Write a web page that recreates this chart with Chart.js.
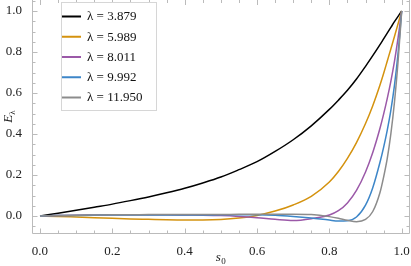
<!DOCTYPE html>
<html>
<head>
<meta charset="utf-8">
<script src="https://cdn.jsdelivr.net/npm/chart.js@4.4.1/dist/chart.umd.min.js"></script>
<style>
  html, body { margin: 0; padding: 0; background: #fff; }
</style>
</head>
<body>
<canvas id="chart" width="411" height="266"></canvas>
<script>
// s0 grid shared by every curve (denser near s0 = 1 where curves get steep)
const sValues = [0, 0.05, 0.1, 0.15, 0.2, 0.25, 0.3, 0.35, 0.4, 0.45, 0.5, 0.55, 0.6, 0.65, 0.7, 0.75,
  0.8, 0.825, 0.85, 0.875, 0.9, 0.92, 0.94, 0.95, 0.96, 0.97, 0.98, 0.99, 1.0];

const lambdas = ['3.879', '5.989', '8.011', '9.992', '11.950'];

const e3879 = [0, 0.014, 0.028, 0.043, 0.058, 0.075, 0.093, 0.113, 0.135, 0.161, 0.19, 0.226, 0.265, 0.315, 0.372, 0.44,
  0.52, 0.565, 0.613, 0.668, 0.73, 0.782, 0.836, 0.864, 0.892, 0.92, 0.948, 0.974, 1.0];
const e5989 = [0, -0.002, -0.005, -0.008, -0.011, -0.014, -0.016, -0.018, -0.019, -0.019, -0.017, -0.01, 0.003, 0.024, 0.054, 0.096,
  0.166, 0.217, 0.281, 0.358, 0.451, 0.538, 0.639, 0.695, 0.755, 0.815, 0.876, 0.938, 1.0];
const e8011 = [0, 0.002, 0.004, 0.005, 0.006, 0.006, 0.006, 0.006, 0.005, 0.004, 0.002, -0.002, -0.008, -0.016, -0.022, -0.013,
  0.005, 0.026, 0.064, 0.125, 0.215, 0.31, 0.428, 0.497, 0.573, 0.657, 0.754, 0.869, 1.0];
const e9992 = [0, 0.002, 0.003, 0.004, 0.005, 0.005, 0.005, 0.005, 0.005, 0.005, 0.006, 0.006, 0.006, 0.004, -0.002, -0.01,
  -0.02, -0.024, -0.023, -0.005, 0.053, 0.138, 0.262, 0.335, 0.418, 0.515, 0.637, 0.795, 1.0];
const e11950 = [0, 0.002, 0.004, 0.005, 0.006, 0.006, 0.007, 0.007, 0.007, 0.007, 0.007, 0.008, 0.008, 0.009, 0.009, 0.007,
  -0.003, -0.011, -0.021, -0.028, -0.017, 0.022, 0.115, 0.19, 0.28, 0.40, 0.555, 0.755, 1.0];

const series = [e3879, e5989, e8011, e9992, e11950];
const colors = ['#000000', '#d4920e', '#9b59a8', '#3d86c8', '#8c8c8c'];

const xTicks = [0, 0.2, 0.4, 0.6, 0.8, 1.0];
const yTicks = [0, 0.2, 0.4, 0.6, 0.8, 1.0];

const FONT = "'Liberation Serif', 'Times New Roman', serif";
const FRAME = '#bbbbbb';

// frame with inside ticks on all four sides, like Mathematica
const framePlugin = {
  id: 'frame',
  beforeDatasetsDraw(chart) {
    const { ctx, chartArea: a, scales: { x, y } } = chart;
    ctx.save();
    ctx.strokeStyle = FRAME;
    ctx.lineWidth = 1;
    ctx.beginPath();
    ctx.moveTo(a.left + 0.5, a.top - 0.5);
    ctx.lineTo(a.left + 0.5, a.bottom + 0.5);
    ctx.lineTo(a.right + 0.5, a.bottom + 0.5);
    ctx.lineTo(a.right + 0.5, a.top - 0.5);
    for (let k = -2; k <= 22; k++) {
      const v = k * 0.05;
      const len = k % 4 === 0 ? 5 : 3;
      if (v >= x.min && v <= x.max) {
        const px = Math.round(x.getPixelForValue(v)) + 0.5;
        ctx.moveTo(px, a.bottom + 0.5); ctx.lineTo(px, a.bottom + 0.5 - len);
        ctx.moveTo(px, a.top); ctx.lineTo(px, a.top + len);
      }
      if (v >= y.min && v <= y.max) {
        const py = Math.round(y.getPixelForValue(v)) + 0.5;
        ctx.moveTo(a.left + 0.5, py); ctx.lineTo(a.left + 0.5 + len, py);
        ctx.moveTo(a.right + 0.5, py); ctx.lineTo(a.right + 0.5 - len, py);
      }
    }
    ctx.stroke();
    ctx.restore();
  },
  afterDraw(chart) {
    const { ctx, chartArea: a } = chart;
    ctx.save();
    ctx.fillStyle = '#222';

    // x title: s0
    ctx.textBaseline = 'alphabetic';
    ctx.font = 'italic 13px ' + FONT;
    const cx = (a.left + a.right) / 2;
    const wS = ctx.measureText('s').width;
    ctx.font = '9px ' + FONT;
    const w0 = ctx.measureText('0').width;
    let sx = cx - (wS + w0) / 2;
    ctx.font = 'italic 13px ' + FONT;
    ctx.fillText('s', sx, 261);
    ctx.font = '9px ' + FONT;
    ctx.fillText('0', sx + wS + 0.5, 264);

    // y title: E_lambda
    ctx.save();
    ctx.translate(12, (a.top + a.bottom) / 2);
    ctx.rotate(-Math.PI / 2);
    ctx.font = 'italic 13px ' + FONT;
    const wE = ctx.measureText('E').width;
    ctx.font = '9px ' + FONT;
    const wL = ctx.measureText('λ').width;
    sx = -(wE + wL) / 2;
    ctx.font = 'italic 13px ' + FONT;
    ctx.fillText('E', sx, 0);
    ctx.font = '9px ' + FONT;
    ctx.fillText('λ', sx + wE, 2.5);
    ctx.restore();

    // legend box
    ctx.fillStyle = '#ffffff';
    ctx.strokeStyle = '#d6d6d6';
    ctx.lineWidth = 1;
    ctx.fillRect(61.5, 2.5, 95, 108);
    ctx.strokeRect(61.5, 2.5, 95, 108);
    ctx.font = '13px ' + FONT;
    ctx.textBaseline = 'middle';
    chart.data.datasets.forEach((ds, i) => {
      const ly = 16.5 + i * 20.25;
      ctx.strokeStyle = ds.borderColor;
      ctx.lineWidth = 2;
      ctx.beginPath();
      ctx.moveTo(62, ly);
      ctx.lineTo(81, ly);
      ctx.stroke();
      ctx.fillStyle = '#111';
      ctx.fillText(ds.label, 87, ly + 0.5);
    });
    ctx.restore();
  }
};

const datasets = series.map((vals, i) => ({
  label: 'λ = ' + lambdas[i],
  data: vals.map((v, j) => ({ x: sValues[j], y: v })),
  borderColor: colors[i],
  backgroundColor: colors[i],
  borderWidth: 1.5,
  pointRadius: 0,
  fill: false,
  cubicInterpolationMode: 'monotone',
  order: series.length - i,
}));

new Chart(document.getElementById('chart').getContext('2d'), {
  type: 'line',
  data: { datasets: datasets },
  options: {
    responsive: false,
    animation: false,
    devicePixelRatio: 1,
    layout: { padding: { left: 0, top: 0, right: 2, bottom: 0 } },
    plugins: {
      legend: { display: false },
      tooltip: { enabled: false },
    },
    scales: {
      x: {
        type: 'linear',
        min: -0.0221,
        max: 1.0202,
        grid: { display: false },
        border: { display: false },
        ticks: {
          font: { family: FONT, size: 13 },
          color: '#222',
          padding: 3,
          maxRotation: 0,
          callback: v => v.toFixed(1),
        },
        afterBuildTicks: s => { s.ticks = xTicks.map(v => ({ value: v })); },
        afterFit: s => { s.height = 33; s.paddingLeft = 0; s.paddingRight = 0; },
      },
      y: {
        type: 'linear',
        min: -0.0829,
        max: 1.0537,
        grid: { display: false },
        border: { display: false },
        ticks: {
          font: { family: FONT, size: 13 },
          color: '#222',
          padding: 2,
          callback: v => v.toFixed(1),
        },
        afterBuildTicks: s => { s.ticks = yTicks.map(v => ({ value: v })); },
        afterFit: s => { s.width = 32; s.paddingTop = 0; s.paddingBottom = 0; },
      },
    },
  },
  plugins: [framePlugin],
});
</script>
</body>
</html>
